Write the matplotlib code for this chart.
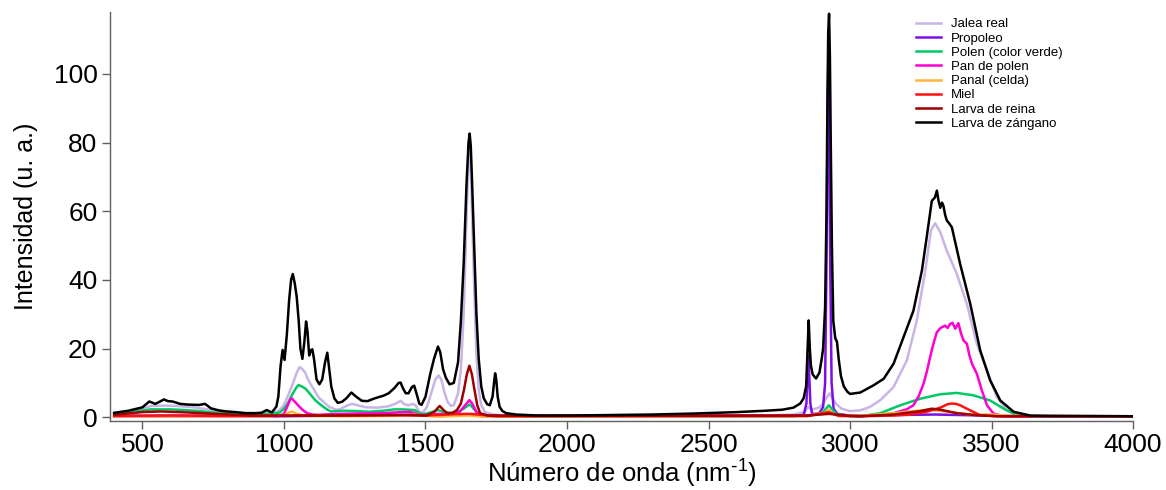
import matplotlib
matplotlib.use("Agg")
import matplotlib.pyplot as plt

plt.rcParams['font.family'] = ['Liberation Sans', 'DejaVu Sans']
plt.rcParams['mathtext.default'] = 'regular'

# ---------------- data ----------------
labels = ["Jalea real", "Propoleo", "Polen (color verde)", "Pan de polen",
          "Panal (celda)", "Miel", "Larva de reina", "Larva de zángano"]
colors = ["#c8b4e6", "#7a10e6", "#00c864", "#ff00d2", "#ffb43c", "#ff1010", "#a00000", "#000000"]

jalea_x = [400, 450, 500, 530, 580, 620, 680, 730, 780, 830, 900, 960, 980, 995, 1005, 1015, 1030, 1045,
           1055, 1065, 1075, 1085, 1095, 1110, 1125, 1140, 1160, 1185, 1200, 1220, 1240, 1260, 1290, 1330,
           1370, 1395, 1412, 1425, 1440, 1455, 1465, 1478, 1490, 1505, 1520, 1535, 1546, 1556, 1566, 1578,
           1590, 1600, 1615, 1625, 1635, 1645, 1652, 1656, 1660, 1666, 1673, 1680, 1688, 1697, 1710, 1730,
           1760, 1800, 2000, 2400, 2700, 2800, 2840, 2852, 2865, 2890, 2905, 2920, 2928, 2938, 2950, 2970,
           3000, 3036, 3070, 3107, 3154, 3201, 3236, 3266, 3286, 3301, 3319, 3342, 3377, 3413, 3448, 3484,
           3519, 3554, 3601, 3700, 4000]
jalea_y = [1.0, 1.6, 2.5, 3.3, 3.4, 3.3, 2.9, 2.3, 1.6, 1.3, 1.2, 1.3, 1.8, 3.0, 4.5, 6.5, 9.5, 13.0,
           14.6, 14.0, 13.0, 11.0, 9.5, 7.5, 5.5, 4.5, 3.0, 2.2, 2.4, 3.3, 3.9, 3.5, 2.9, 2.8,
           3.2, 4.0, 4.8, 3.8, 3.5, 3.9, 3.5, 1.6, 1.3, 3.0, 7.0, 11.0, 12.2, 11.0, 7.5, 4.5,
           3.3, 3.5, 7.0, 14.0, 30.0, 58.0, 75.0, 79.5, 74.0, 55.0, 35.0, 18.0, 8.0, 3.5, 1.5, 1.0,
           0.6, 0.4, 0.4, 0.4, 0.5, 0.8, 1.5, 3.0, 2.2, 2.8, 4.0, 6.0, 7.0, 5.5, 4.0, 2.5,
           1.8, 2.0, 3.0, 5.0, 8.8, 16.6, 28.2, 42.7, 54.4, 56.5, 53.9, 48.5, 41.8, 33.0, 21.4, 13.7,
           5.9, 2.0, 0.3, 0.2, 0.2]

propoleo_x = [400, 600, 800, 1000, 1200, 1400, 1500, 1550, 1655, 1700, 2800, 2836, 2846, 2850, 2853,
              2856, 2860, 2866, 2890, 2905, 2912, 2917, 2921, 2923, 2926, 2930, 2935, 2942, 2955, 3000,
              3300, 3600, 4000]
propoleo_y = [0.4, 0.5, 0.4, 0.3, 0.5, 0.6, 0.8, 0.3, 0.9, 0.3, 0.3, 0.6, 4.0, 12.0, 18.0,
              12.0, 4.0, 1.0, 1.0, 3.0, 10.0, 45.0, 90.0, 102.0, 90.0, 45.0, 10.0, 2.5, 1.0, 0.5,
              0.8, 0.3, 0.3]

polen_x = [400, 450, 500, 530, 600, 650, 700, 750, 800, 880, 960, 985, 1000, 1014, 1025, 1035, 1045,
           1052, 1062, 1075, 1085, 1095, 1110, 1130, 1150, 1165, 1190, 1220, 1260, 1300, 1350, 1390,
           1420, 1462, 1478, 1490, 1510, 1543, 1565, 1590, 1615, 1635, 1648, 1655, 1663, 1675, 1690,
           1710, 1800, 2850, 2900, 2915, 2925, 2935, 2950, 2990, 3036, 3107, 3178, 3248, 3319, 3377,
           3436, 3495, 3543, 3590, 3650, 4000]
polen_y = [1.0, 1.4, 2.0, 2.3, 2.3, 2.1, 1.8, 1.4, 1.0, 0.7, 1.0, 1.4, 2.5, 4.1, 6.0, 7.5, 8.8,
           9.4, 9.0, 8.4, 7.5, 6.5, 5.0, 3.6, 2.4, 1.7, 1.8, 1.9, 1.8, 1.6, 1.9, 2.3,
           2.3, 2.1, 1.2, 0.9, 1.2, 2.1, 1.5, 1.2, 1.6, 2.5, 3.3, 3.7, 3.2, 2.0, 1.0,
           0.5, 0.3, 0.4, 1.2, 2.5, 3.5, 2.5, 1.0, 0.4, 0.3, 1.2, 3.5, 5.4, 6.7, 7.1,
           6.4, 4.9, 2.5, 0.6, 0.2, 0.2]

pan_x = [400, 980, 1000, 1014, 1022, 1028, 1035, 1041, 1054, 1068, 1082, 1100, 1122, 1163, 1250, 1350,
         1435, 1460, 1475, 1510, 1543, 1575, 1620, 1640, 1655, 1665, 1680, 1706, 2850, 2925, 2960, 3036,
         3100, 3154, 3200, 3224, 3242, 3260, 3272, 3283, 3295, 3307, 3320, 3336, 3345, 3354, 3362, 3372,
         3383, 3392, 3401, 3413, 3422, 3431, 3448, 3466, 3484, 3507, 3543, 4000]
pan_y = [0.3, 0.3, 1.0, 3.6, 5.2, 5.5, 4.8, 4.3, 3.1, 2.0, 1.2, 0.8, 0.7, 0.9, 1.1, 1.2,
         1.6, 1.3, 0.7, 0.7, 1.0, 0.8, 1.5, 3.5, 5.0, 4.0, 1.5, 0.5, 0.5, 1.5, 0.5, 0.3,
         0.6, 1.2, 2.3, 3.5, 6.0, 9.8, 13.5, 17.5, 21.5, 24.8, 26.0, 26.7, 26.0, 27.2, 27.5, 25.8,
         27.4, 24.5, 22.4, 21.4, 18.0, 15.6, 12.7, 7.8, 3.5, 1.1, 0.3, 0.2]

panal_x = [400, 950, 1000, 1020, 1030, 1045, 1080, 1200, 1400, 1460, 1500, 1550, 1650, 1700, 2850, 2915,
           2925, 2935, 2960, 3050, 3154, 3224, 3283, 3342, 3425, 3507, 3560, 4000]
panal_y = [0.3, 0.3, 0.6, 1.5, 1.6, 1.0, 0.4, 0.3, 0.4, 0.8, 0.4, 0.2, 0.5, 0.2, 0.3, 1.5,
           2.2, 1.3, 0.4, 0.5, 1.2, 1.8, 2.2, 1.6, 0.8, 0.8, 0.4, 0.2]

miel_x = [400, 600, 800, 1000, 1200, 1400, 1500, 1600, 1660, 1750, 2850, 2925, 2960, 3036, 3150, 3213,
          3271, 3319, 3345, 3360, 3375, 3389, 3425, 3460, 3520, 3700, 4000]
miel_y = [0.4, 0.5, 0.4, 0.5, 0.5, 0.6, 0.5, 0.9, 1.0, 0.3, 0.4, 1.5, 0.4, 0.3, 0.5, 0.8,
          1.6, 2.8, 3.8, 4.0, 3.9, 3.5, 2.0, 0.6, 0.3, 0.4, 0.3]

reina_x = [400, 450, 497, 565, 660, 755, 891, 1163, 1435, 1503, 1530, 1550, 1565, 1577, 1595, 1611,
           1625, 1636, 1646, 1655, 1664, 1673, 1683, 1693, 1720, 1900, 2850, 2925, 3000, 3036, 3154,
           3248, 3289, 3319, 3377, 3448, 3520, 4000]
reina_y = [0.7, 1.1, 1.5, 1.7, 1.4, 1.0, 0.5, 0.5, 0.7, 0.5, 1.5, 3.3, 2.0, 1.2, 1.3, 2.1,
           4.0, 8.0, 12.5, 15.0, 12.5, 8.0, 3.5, 1.2, 0.5, 0.4, 0.5, 1.0, 0.4, 0.3, 0.8,
           1.8, 2.5, 2.2, 1.2, 0.6, 0.3, 0.3]

zangano_x = [400, 450, 500, 524, 545, 560, 576, 590, 606, 633, 660, 700, 721, 742, 770, 796, 830, 864,
             900, 920, 939, 957, 973, 980, 988, 995, 1002, 1010, 1018, 1025, 1031, 1038, 1045, 1052,
             1058, 1065, 1072, 1078, 1083, 1089, 1095, 1100, 1106, 1115, 1125, 1135, 1145, 1153, 1160,
             1167, 1178, 1190, 1205, 1220, 1238, 1255, 1275, 1295, 1320, 1352, 1370, 1390, 1405, 1412,
             1420, 1430, 1440, 1452, 1460, 1468, 1478, 1486, 1500, 1517, 1530, 1544, 1552, 1562, 1572,
             1585, 1600, 1615, 1625, 1635, 1645, 1652, 1656, 1660, 1666, 1673, 1680, 1688, 1697, 1706,
             1718, 1727, 1737, 1742, 1746, 1750, 1755, 1762, 1772, 1785, 1820, 1900, 2000, 2100, 2300,
             2450, 2600, 2700, 2760, 2800, 2824, 2836, 2845, 2850, 2854, 2858, 2862, 2868, 2880, 2892,
             2900, 2905, 2912, 2917, 2920, 2923, 2926, 2929, 2932, 2936, 2941, 2948, 2954, 2960, 2968,
             2978, 2990, 3000, 3036, 3083, 3119, 3154, 3189, 3224, 3254, 3271, 3289, 3300, 3307, 3313,
             3319, 3325, 3330, 3336, 3342, 3350, 3360, 3389, 3425, 3460, 3495, 3531, 3578, 3637, 3700,
             4000]
zangano_y = [1.3, 1.9, 2.9, 4.6, 3.9, 4.5, 5.2, 4.7, 4.6, 3.9, 3.7, 3.6, 3.9, 2.6, 2.0, 1.7, 1.5, 1.2,
             1.2, 1.3, 2.1, 1.4, 3.1, 6.0, 15.0, 19.6, 16.7, 24.0, 34.0, 40.0, 41.7, 39.0, 35.0, 28.0,
             20.0, 17.0, 22.0, 27.9, 25.0, 18.0, 19.5, 19.8, 17.0, 11.0, 9.6, 11.0, 16.0, 18.8, 14.0,
             9.0, 5.5, 4.2, 4.5, 5.5, 7.2, 6.0, 4.8, 4.7, 5.5, 6.3, 7.0, 8.5, 10.0, 10.1,
             8.5, 7.0, 7.0, 8.8, 9.2, 7.0, 4.0, 3.6, 6.0, 12.7, 17.0, 20.6, 19.0, 14.0, 11.5,
             9.6, 10.0, 16.0, 28.0, 45.0, 68.0, 80.0, 82.6, 79.0, 65.0, 47.0, 30.0, 17.0, 9.0, 5.5,
             3.8, 3.5, 6.0, 10.0, 12.8, 11.0, 6.0, 3.0, 1.8, 1.2, 0.8, 0.5, 0.5, 0.6, 0.8,
             1.1, 1.5, 1.9, 2.2, 2.8, 4.0, 5.5, 9.0, 20.0, 28.2, 20.0, 15.0, 12.5, 11.3, 13.0,
             17.0, 20.0, 32.0, 60.0, 90.0, 112.0, 117.5, 105.0, 80.0, 50.0, 28.0, 23.0, 22.0, 17.0, 12.0,
             9.0, 7.5, 6.8, 7.2, 9.3, 11.2, 15.6, 23.3, 31.0, 42.7, 52.4, 63.0, 64.0, 66.0, 63.0,
             61.0, 62.5, 61.6, 59.0, 57.3, 56.5, 55.3, 44.7, 33.0, 19.5, 10.8, 4.9, 1.6, 0.5, 0.4,
             0.3]

series_x = [jalea_x, propoleo_x, polen_x, pan_x, panal_x, miel_x, reina_x, zangano_x]
series_y = [jalea_y, propoleo_y, polen_y, pan_y, panal_y, miel_y, reina_y, zangano_y]

x_ticks = [500, 1000, 1500, 2000, 2500, 3000, 3500, 4000]
y_ticks = [0, 20, 40, 60, 80, 100]

# ---------------- figure ----------------
fig = plt.figure(figsize=(11.66, 4.90), dpi=100)
ax = fig.add_axes([0.0943, 0.1414, 0.9717 - 0.0943, 0.9755 - 0.1414])

for i, (xs, ys, lab, col) in enumerate(zip(series_x, series_y, labels, colors)):
    ax.plot(xs, ys, color=col, lw=1.8, label=lab, zorder=2 + i)

ax.set_xlim(385, 4000)
ax.set_ylim(-1, 118)
ax.set_xticks(x_ticks)
ax.set_yticks(y_ticks)

for s in ['top', 'right']:
    ax.spines[s].set_visible(False)
for s in ['left', 'bottom']:
    ax.spines[s].set_color('#606060')
    ax.spines[s].set_linewidth(1.0)
ax.tick_params(axis='both', direction='out', length=6, width=1.0, color='#606060',
               labelsize=19, pad=3, labelcolor='black')

ax.set_xlabel("Número de onda (nm$^{\\text{-}1}$)", fontsize=18.5, labelpad=0.5)
ax.set_ylabel("Intensidad (u. a.)", fontsize=18, labelpad=11)

leg = ax.legend(loc='upper left', bbox_to_anchor=(0.788, 0.985), frameon=False,
                fontsize=9.5, handlelength=1.9, handletextpad=0.75, labelspacing=0.15,
                borderaxespad=0, borderpad=0)

fig.savefig("out.png", dpi=100)
